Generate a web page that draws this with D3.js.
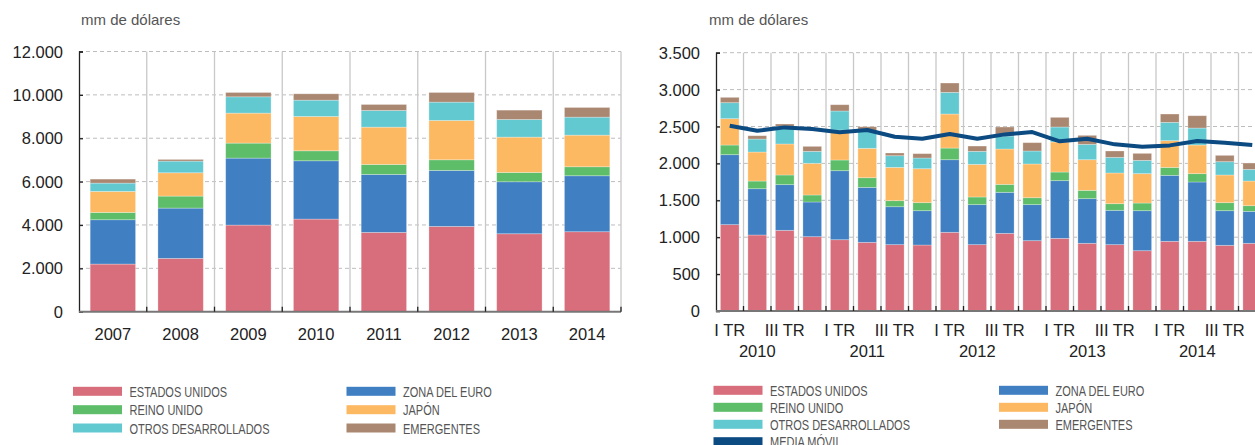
<!DOCTYPE html>
<html>
<head>
<meta charset="UTF-8">
<title>Inversión en cartera por área de destino</title>
<script src="https://cdn.jsdelivr.net/npm/d3@7"></script>
<style>
  body { margin: 0; background: #fff; }
  svg { display: block; font-family: "Liberation Sans", Arial, sans-serif; }
  .tick-label { font-size: 16.5px; fill: #222; }
  .unit { font-size: 15px; fill: #555; }
  .legend text { font-size: 15.5px; fill: #555; }
  .hgrid { stroke: #bdbdbd; stroke-dasharray: 4,3; }
  .vgrid { stroke: #c8c8c8; stroke-width: 1.3; }
</style>
</head>
<body>
<div id="graphe"></div>
<script>
// series (mm de dólares)
var series = ["ESTADOS UNIDOS", "ZONA DEL EURO", "REINO UNIDO", "JAPÓN", "OTROS DESARROLLADOS", "EMERGENTES"];
var colors = ["#d86d7b", "#3f7fc2", "#5ebd69", "#fdb862", "#63c9d1", "#aa8770"];

// left panel: annual
var years = ["2007", "2008", "2009", "2010", "2011", "2012", "2013", "2014"];
var usA  = [2197, 2458, 3995, 4271, 3657, 3933, 3595, 3688];
var ezA  = [2044, 2320, 3088, 2689, 2673, 2582, 2397, 2581];
var ukA  = [338, 554, 692, 461, 461, 491, 430, 415];
var jpA  = [968, 1075, 1383, 1583, 1721, 1813, 1629, 1459];
var odA  = [384, 538, 752, 753, 769, 846, 815, 830];
var emA  = [184, 77, 200, 292, 276, 445, 430, 446];
var ticksA = [0, 2000, 4000, 6000, 8000, 10000, 12000];

// right panel: quarterly 2010-2014
var quarters = ["I TR", "II TR", "III TR", "IV TR"];
var qYears = ["2010", "2011", "2012", "2013", "2014"];
var usQ = [1170, 1030, 1093, 1007, 966, 930, 899, 894, 1066, 899, 1052, 953, 984, 917, 899, 817, 944, 944, 890, 917];
var ezQ = [948, 627, 619, 470, 935, 745, 514, 465, 984, 542, 556, 488, 782, 605, 465, 542, 894, 804, 469, 433];
var ukQ = [131, 104, 131, 95, 145, 131, 82, 109, 158, 104, 108, 94, 117, 113, 90, 104, 108, 113, 109, 77];
var jpQ = [357, 393, 420, 429, 406, 398, 451, 460, 461, 442, 479, 457, 407, 415, 416, 398, 362, 388, 375, 334];
var odQ = [217, 176, 239, 162, 258, 239, 158, 145, 293, 176, 176, 176, 203, 208, 212, 180, 248, 230, 180, 158];
var emQ = [72, 45, 32, 68, 85, 54, 37, 59, 127, 72, 122, 113, 131, 122, 86, 95, 113, 167, 86, 86];
var mediaMovil = [2511, 2443, 2488, 2466, 2421, 2452, 2362, 2335, 2398, 2335, 2393, 2425, 2299, 2335, 2258, 2226, 2244, 2303, 2281, 2249];
var ticksQ = [0, 500, 1000, 1500, 2000, 2500, 3000, 3500];

var fmt = function(v) { return d3.format(",")(v).replace(/,/g, "."); };

var svg = d3.select("#graphe").append("svg")
    .attr("width", 1255)
    .attr("height", 445);

function stackRows(labels, cols) {
  return labels.map(function(l, i) {
    var row = { label: l, i: i };
    series.forEach(function(s, k) { row[s] = cols[k][i]; });
    return row;
  });
}

function panel(opts) {
  var g = svg.append("g");
  var x = d3.scaleBand().domain(opts.labels).range([opts.x0, opts.x1])
      .paddingInner(opts.pad).paddingOuter(opts.pad / 2);
  var y = d3.scaleLinear().domain([0, opts.ymax]).range([opts.y0, opts.y1]);
  var step = x.step();

  g.append("text").attr("class", "unit")
    .attr("x", opts.unitX).attr("y", 25).text("mm de dólares");

  // horizontal grid
  g.append("g").selectAll("line").data(opts.ticks.slice(1)).enter().append("line")
    .attr("class", "hgrid")
    .attr("x1", opts.x0).attr("x2", opts.x1)
    .attr("y1", function(d) { return y(d); }).attr("y2", function(d) { return y(d); });

  // vertical grid at category boundaries
  g.append("g").selectAll("line").data(d3.range(1, opts.labels.length + 1)).enter().append("line")
    .attr("class", "vgrid")
    .attr("x1", function(i) { return opts.x0 + i * step; })
    .attr("x2", function(i) { return opts.x0 + i * step; })
    .attr("y1", opts.y1).attr("y2", opts.y0);

  var stacked = d3.stack().keys(series)(stackRows(opts.labels, opts.cols));
  g.append("g").selectAll("g").data(stacked).enter().append("g")
    .attr("fill", function(d, k) { return colors[k]; })
    .selectAll("rect").data(function(d) { return d; }).enter().append("rect")
    .attr("x", function(d) { return x(d.data.label); })
    .attr("width", x.bandwidth())
    .attr("y", function(d) { return y(d[1]); })
    .attr("height", function(d) { return y(d[0]) - y(d[1]); })
    .attr("stroke", "#fff").attr("stroke-opacity", 0.35).attr("stroke-width", 0.8);

  // axes
  var yAxis = g.append("g").attr("transform", "translate(" + opts.x0 + ",0)")
    .call(d3.axisRight(y).tickValues(opts.ticks).tickSize(4).tickFormat(""));
  yAxis.select(".domain").attr("stroke", "#222").attr("stroke-width", 1.3);
  yAxis.selectAll(".tick line").attr("stroke", "#222").attr("stroke-width", 1.3);

  g.append("g").selectAll("text").data(opts.ticks).enter().append("text")
    .attr("class", "tick-label")
    .attr("x", opts.x0 - 16).attr("y", function(d) { return y(d) + 6; })
    .attr("text-anchor", "end").text(fmt);

  g.append("line").attr("x1", opts.x0).attr("x2", opts.x1)
    .attr("y1", opts.y0).attr("y2", opts.y0)
    .attr("stroke", "#777").attr("stroke-width", 2);
  g.append("g").selectAll("line").data(d3.range(1, opts.labels.length + 1)).enter().append("line")
    .attr("x1", function(i) { return opts.x0 + i * step; })
    .attr("x2", function(i) { return opts.x0 + i * step; })
    .attr("y1", opts.y0).attr("y2", opts.y0 - 5)
    .attr("stroke", "#222").attr("stroke-width", 1.3);

  return { g: g, x: x, y: y };
}

// left
var left = panel({
  labels: years, cols: [usA, ezA, ukA, jpA, odA, emA], ticks: ticksA, ymax: 12000,
  x0: 79, x1: 621, y0: 311.7, y1: 51.5, pad: 0.33, unitX: 81
});
left.g.append("g").selectAll("text").data(years).enter().append("text")
  .attr("class", "tick-label")
  .attr("x", function(d) { return left.x(d) + left.x.bandwidth() / 2; })
  .attr("y", 340).attr("text-anchor", "middle").text(function(d) { return d; });

// right
var qLabels = [];
qYears.forEach(function(yr) { quarters.forEach(function(q) { qLabels.push(q + " " + yr); }); });
var right = panel({
  labels: qLabels, cols: [usQ, ezQ, ukQ, jpQ, odQ, emQ], ticks: ticksQ, ymax: 3500,
  x0: 716, x1: 1266, y0: 311, y1: 52.7, pad: 0.32, unitX: 709
});
var cx = function(l) { return right.x(l) + right.x.bandwidth() / 2; };

right.g.append("path")
  .datum(mediaMovil)
  .attr("fill", "none").attr("stroke", "#0c4a82").attr("stroke-width", 4)
  .attr("stroke-linejoin", "round")
  .attr("d", d3.line()
    .x(function(d, i) { return cx(qLabels[i]); })
    .y(function(d) { return right.y(d); }));

right.g.append("g").selectAll("text")
  .data(qLabels.filter(function(l, i) { return i % 2 === 0; })).enter().append("text")
  .attr("class", "tick-label")
  .attr("x", cx).attr("y", 336).attr("text-anchor", "middle")
  .text(function(d) { return d.split(" ").slice(0, 2).join(" "); });

right.g.append("g").selectAll("text").data(qYears).enter().append("text")
  .attr("class", "tick-label")
  .attr("x", function(yr) { return cx("II TR " + yr); }).attr("y", 357).attr("text-anchor", "middle")
  .text(function(d) { return d; });

// legends
function legend(x0, x1, ys, items) {
  var lg = svg.append("g").attr("class", "legend");
  items.forEach(function(it) {
    var lx = it.col === 0 ? x0 : x1;
    var ly = ys[it.row];
    lg.append("rect").attr("x", lx).attr("y", ly - 4.5).attr("width", 49).attr("height", 9)
      .attr("fill", it.color);
    lg.append("text").attr("transform", "translate(" + (lx + 56.5) + "," + (ly + 5.5) + ") scale(0.71,1)")
      .text(it.name);
  });
}
var order = [[0, 0, 0], [1, 1, 0], [2, 0, 1], [3, 1, 1], [4, 0, 2], [5, 1, 2]];
var legItems = order.map(function(o) { return { name: series[o[0]], color: colors[o[0]], col: o[1], row: o[2] }; });
legend(73, 346.5, [391.3, 409.7, 428], legItems);
legend(713.5, 999, [390.3, 407.3, 424.3, 441.7],
  legItems.concat([{ name: "MEDIA MÓVIL", color: "#0c4a82", col: 0, row: 3 }]));
</script>
</body>
</html>
